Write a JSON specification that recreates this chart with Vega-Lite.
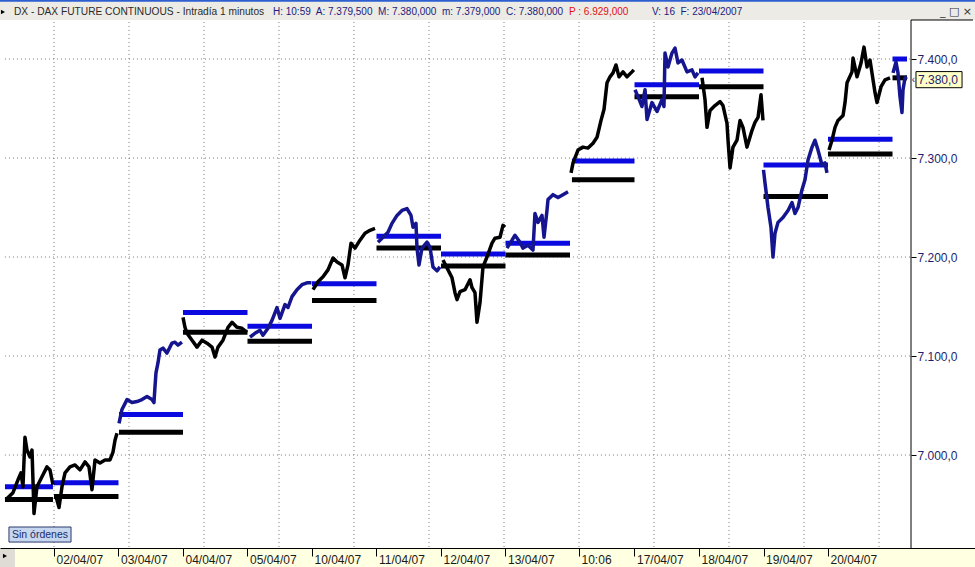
{
"$schema": "https://vega.github.io/schema/vega-lite/v6.json",
"width": 975, "height": 567, "autosize": "none", "padding": 0,
"background": "white",
"config": {"view": {"stroke": null}, "font": "Liberation Sans"},
"encoding": {
  "x": {"field": "t", "type": "quantitative", "title": null,
    "scale": {"domain": [0.163, 15.279], "nice": false, "zero": false},
    "axis": {"orient": "bottom", "offset": -19, "zindex": 2, "grid": false,
      "values": [1,2,3,4,5,6,7,8,9.14,10,11,12,13],
      "labelExpr": "['02/04/07','03/04/07','04/04/07','05/04/07','10/04/07','11/04/07','12/04/07','13/04/07','10:06','17/04/07','18/04/07','19/04/07','20/04/07'][round(datum.value)-1]",
      "domainColor": "#000000", "tickColor": "#000000", "tickSize": 8,
      "labelAlign": "left", "labelBaseline": "top", "labelPadding": -2, "labelOffset": 2,
      "labelFont": "Liberation Sans", "labelFontSize": 12, "labelColor": "#1a1a1a",
      "labelFlush": false, "labelOverlap": false, "labelBound": false}},
  "y": {"field": "p", "type": "quantitative", "title": null,
    "scale": {"domain": [6886.9, 7459.6], "nice": false, "zero": false},
    "axis": {"orient": "right", "offset": -64, "zindex": 2, "grid": false, "domain": false,
      "values": [7000,7100,7200,7300,7400],
      "labelExpr": "'7.' + format(datum.value - 7000, '03d') + ',0'",
      "tickColor": "#000000", "tickSize": 5, "labelPadding": 1,
      "labelFont": "Liberation Sans", "labelFontSize": 12, "labelColor": "#1e1e6e",
      "labelOverlap": false, "labelBound": false, "labelFlush": false}}
},
"resolve": {"scale": {"color": "independent"}},
"layer": [
  {"data": {"values": [{"t": 0.163, "t2": 15.279, "p": 7439.4, "p2": 7459.6}]},
   "mark": {"type": "rect", "color": "#ecebe6"},
   "encoding": {"x2": {"field": "t2"}, "y2": {"field": "p2"}}},
  {"data": {"values": [{"t": 0.163, "t2": 15.279, "p": 7457.8, "p2": 7459.6}]},
   "mark": {"type": "rect", "color": "#2d5fd0"},
   "encoding": {"x2": {"field": "t2"}, "y2": {"field": "p2"}}},
  {"data": {"values": [{"t": 0.163, "t2": 15.279, "p": 6886.9, "p2": 6905.9}]},
   "mark": {"type": "rect", "color": "#ffffe1"},
   "encoding": {"x2": {"field": "t2"}, "y2": {"field": "p2"}}},
  {"data": {"values": [{"t": 0.163, "t2": 0.395, "p": 6886.9, "p2": 6905.4}]},
   "mark": {"type": "rect", "color": "#dedcd4"},
   "encoding": {"x2": {"field": "t2"}, "y2": {"field": "p2"}}},
  {"data": {"values": [
     {"t": 0.24, "t2": 14.287, "p": 7000}, {"t": 0.24, "t2": 14.287, "p": 7100},
     {"t": 0.24, "t2": 14.287, "p": 7200}, {"t": 0.24, "t2": 14.287, "p": 7300},
     {"t": 0.24, "t2": 14.287, "p": 7400}]},
   "mark": {"type": "rule", "color": "#7a7a7a", "strokeDash": [1, 3], "strokeWidth": 1},
   "encoding": {"x2": {"field": "t2"}}},
  {"data": {"values": [
     {"t": 1.0, "p": 7437.4, "p2": 6905.9}, {"t": 2.163, "p": 7437.4, "p2": 6905.9},
     {"t": 3.326, "p": 7437.4, "p2": 6905.9}, {"t": 4.488, "p": 7437.4, "p2": 6905.9},
     {"t": 5.651, "p": 7437.4, "p2": 6905.9}, {"t": 6.814, "p": 7437.4, "p2": 6905.9},
     {"t": 7.977, "p": 7437.4, "p2": 6905.9}, {"t": 9.140, "p": 7437.4, "p2": 6905.9},
     {"t": 10.302, "p": 7437.4, "p2": 6905.9}, {"t": 11.465, "p": 7437.4, "p2": 6905.9},
     {"t": 12.628, "p": 7437.4, "p2": 6905.9}, {"t": 13.791, "p": 7437.4, "p2": 6905.9}]},
   "mark": {"type": "rule", "color": "#7a7a7a", "strokeDash": [1, 3], "strokeWidth": 1},
   "encoding": {"y2": {"field": "p2"}}},
  {"data": {"values": [
     {"s": 0, "t": 0.24, "t2": 0.984, "lvl": "sup", "p": 6968}, {"s": 0, "t": 0.24, "t2": 0.984, "lvl": "inf", "p": 6955},
     {"s": 1, "t": 1.0, "t2": 2.0, "lvl": "sup", "p": 6972}, {"s": 1, "t": 1.0, "t2": 2.0, "lvl": "inf", "p": 6958},
     {"s": 2, "t": 2.008, "t2": 3.0, "lvl": "sup", "p": 7041}, {"s": 2, "t": 2.008, "t2": 3.0, "lvl": "inf", "p": 7023},
     {"s": 3, "t": 3.0, "t2": 4.0, "lvl": "sup", "p": 7144}, {"s": 3, "t": 3.0, "t2": 4.0, "lvl": "inf", "p": 7124},
     {"s": 4, "t": 4.0, "t2": 5.0, "lvl": "sup", "p": 7130}, {"s": 4, "t": 4.0, "t2": 5.0, "lvl": "inf", "p": 7115},
     {"s": 5, "t": 5.0, "t2": 6.0, "lvl": "sup", "p": 7173}, {"s": 5, "t": 5.0, "t2": 6.0, "lvl": "inf", "p": 7156},
     {"s": 6, "t": 6.0, "t2": 7.0, "lvl": "sup", "p": 7221}, {"s": 6, "t": 6.0, "t2": 7.0, "lvl": "inf", "p": 7209},
     {"s": 7, "t": 7.0, "t2": 8.0, "lvl": "sup", "p": 7203}, {"s": 7, "t": 7.0, "t2": 8.0, "lvl": "inf", "p": 7191},
     {"s": 8, "t": 8.0, "t2": 9.0, "lvl": "sup", "p": 7214}, {"s": 8, "t": 8.0, "t2": 9.0, "lvl": "inf", "p": 7202},
     {"s": 9, "t": 9.03, "t2": 10.0, "lvl": "sup", "p": 7297}, {"s": 9, "t": 9.03, "t2": 10.0, "lvl": "inf", "p": 7278},
     {"s": 10, "t": 10.0, "t2": 11.0, "lvl": "sup", "p": 7374}, {"s": 10, "t": 10.0, "t2": 11.0, "lvl": "inf", "p": 7362},
     {"s": 11, "t": 11.0, "t2": 12.0, "lvl": "sup", "p": 7388}, {"s": 11, "t": 11.0, "t2": 12.0, "lvl": "inf", "p": 7372},
     {"s": 12, "t": 12.0, "t2": 13.0, "lvl": "sup", "p": 7293}, {"s": 12, "t": 12.0, "t2": 13.0, "lvl": "inf", "p": 7261},
     {"s": 13, "t": 13.0, "t2": 14.0, "lvl": "sup", "p": 7319}, {"s": 13, "t": 13.0, "t2": 14.0, "lvl": "inf", "p": 7304},
     {"s": 14, "t": 14.0, "t2": 14.225, "lvl": "sup", "p": 7400}, {"s": 14, "t": 14.0, "t2": 14.225, "lvl": "inf", "p": 7381}]},
   "mark": {"type": "rule", "strokeWidth": 5},
   "encoding": {"x2": {"field": "t2"},
     "color": {"field": "lvl", "type": "nominal", "legend": null,
       "scale": {"domain": ["sup", "inf"], "range": ["#0a0ae0", "#000000"]}}}},
  {"data": {"values": [
     {"s":0,"t":0.256,"p":6955},{"s":0,"t":0.364,"p":6962},{"s":0,"t":0.442,"p":6975},{"s":0,"t":0.488,"p":6982},{"s":0,"t":0.519,"p":6968},{"s":0,"t":0.550,"p":7018},{"s":0,"t":0.581,"p":7005},{"s":0,"t":0.628,"p":6998},{"s":0,"t":0.659,"p":7005},{"s":0,"t":0.674,"p":6975},{"s":0,"t":0.690,"p":6941},{"s":0,"t":0.736,"p":6968},{"s":0,"t":0.814,"p":6978},{"s":0,"t":0.891,"p":6988},{"s":0,"t":0.938,"p":6985},{"s":0,"t":0.984,"p":6970},
     {"s":1,"t":1.031,"p":6958},{"s":1,"t":1.078,"p":6947},{"s":1,"t":1.124,"p":6968},{"s":1,"t":1.171,"p":6982},{"s":1,"t":1.248,"p":6988},{"s":1,"t":1.326,"p":6990},{"s":1,"t":1.403,"p":6985},{"s":1,"t":1.481,"p":6993},{"s":1,"t":1.543,"p":6988},{"s":1,"t":1.589,"p":6965},{"s":1,"t":1.636,"p":6995},{"s":1,"t":1.713,"p":6992},{"s":1,"t":1.791,"p":6995},{"s":1,"t":1.868,"p":6995},{"s":1,"t":1.915,"p":7003},{"s":1,"t":1.946,"p":7015},{"s":1,"t":1.977,"p":7022},
     {"s":2,"t":2.008,"p":7032},{"s":2,"t":2.054,"p":7046},{"s":2,"t":2.132,"p":7056},{"s":2,"t":2.209,"p":7053},{"s":2,"t":2.287,"p":7054},{"s":2,"t":2.364,"p":7056},{"s":2,"t":2.442,"p":7059},{"s":2,"t":2.519,"p":7056},{"s":2,"t":2.550,"p":7053},{"s":2,"t":2.566,"p":7069},{"s":2,"t":2.581,"p":7083},{"s":2,"t":2.612,"p":7093},{"s":2,"t":2.643,"p":7106},{"s":2,"t":2.690,"p":7108},{"s":2,"t":2.752,"p":7103},{"s":2,"t":2.829,"p":7113},{"s":2,"t":2.876,"p":7114},{"s":2,"t":2.922,"p":7111},{"s":2,"t":2.984,"p":7114},
     {"s":3,"t":3.000,"p":7139},{"s":3,"t":3.031,"p":7129},{"s":3,"t":3.062,"p":7123},{"s":3,"t":3.140,"p":7116},{"s":3,"t":3.217,"p":7109},{"s":3,"t":3.295,"p":7116},{"s":3,"t":3.372,"p":7113},{"s":3,"t":3.450,"p":7109},{"s":3,"t":3.496,"p":7099},{"s":3,"t":3.543,"p":7109},{"s":3,"t":3.620,"p":7116},{"s":3,"t":3.698,"p":7129},{"s":3,"t":3.760,"p":7134},{"s":3,"t":3.837,"p":7129},{"s":3,"t":3.915,"p":7128},{"s":3,"t":3.992,"p":7124},
     {"s":4,"t":4.039,"p":7119},{"s":4,"t":4.116,"p":7123},{"s":4,"t":4.194,"p":7126},{"s":4,"t":4.240,"p":7121},{"s":4,"t":4.318,"p":7128},{"s":4,"t":4.380,"p":7136},{"s":4,"t":4.457,"p":7149},{"s":4,"t":4.504,"p":7138},{"s":4,"t":4.581,"p":7152},{"s":4,"t":4.628,"p":7149},{"s":4,"t":4.690,"p":7160},{"s":4,"t":4.767,"p":7167},{"s":4,"t":4.845,"p":7172},{"s":4,"t":4.922,"p":7174},{"s":4,"t":4.992,"p":7174},
     {"s":5,"t":5.016,"p":7167},{"s":5,"t":5.093,"p":7175},{"s":5,"t":5.171,"p":7180},{"s":5,"t":5.248,"p":7187},{"s":5,"t":5.326,"p":7199},{"s":5,"t":5.388,"p":7195},{"s":5,"t":5.465,"p":7192},{"s":5,"t":5.512,"p":7179},{"s":5,"t":5.558,"p":7192},{"s":5,"t":5.605,"p":7214},{"s":5,"t":5.667,"p":7209},{"s":5,"t":5.744,"p":7217},{"s":5,"t":5.822,"p":7224},{"s":5,"t":5.899,"p":7227},{"s":5,"t":5.977,"p":7229},
     {"s":6,"t":6.023,"p":7215},{"s":6,"t":6.101,"p":7220},{"s":6,"t":6.178,"p":7225},{"s":6,"t":6.240,"p":7234},{"s":6,"t":6.318,"p":7242},{"s":6,"t":6.395,"p":7247},{"s":6,"t":6.473,"p":7249},{"s":6,"t":6.535,"p":7242},{"s":6,"t":6.566,"p":7230},{"s":6,"t":6.612,"p":7234},{"s":6,"t":6.628,"p":7209},{"s":6,"t":6.659,"p":7192},{"s":6,"t":6.705,"p":7209},{"s":6,"t":6.783,"p":7215},{"s":6,"t":6.829,"p":7210},{"s":6,"t":6.876,"p":7190},{"s":6,"t":6.938,"p":7186},{"s":6,"t":6.984,"p":7190},
     {"s":7,"t":7.031,"p":7197},{"s":7,"t":7.109,"p":7187},{"s":7,"t":7.171,"p":7179},{"s":7,"t":7.217,"p":7164},{"s":7,"t":7.248,"p":7157},{"s":7,"t":7.295,"p":7165},{"s":7,"t":7.372,"p":7167},{"s":7,"t":7.450,"p":7177},{"s":7,"t":7.481,"p":7169},{"s":7,"t":7.527,"p":7164},{"s":7,"t":7.558,"p":7134},{"s":7,"t":7.605,"p":7154},{"s":7,"t":7.651,"p":7190},{"s":7,"t":7.713,"p":7200},{"s":7,"t":7.791,"p":7214},{"s":7,"t":7.837,"p":7219},{"s":7,"t":7.915,"p":7220},{"s":7,"t":7.961,"p":7232},{"s":7,"t":7.992,"p":7230},
     {"s":8,"t":8.023,"p":7209},{"s":8,"t":8.101,"p":7217},{"s":8,"t":8.147,"p":7222},{"s":8,"t":8.225,"p":7215},{"s":8,"t":8.271,"p":7209},{"s":8,"t":8.349,"p":7212},{"s":8,"t":8.426,"p":7207},{"s":8,"t":8.457,"p":7244},{"s":8,"t":8.504,"p":7235},{"s":8,"t":8.566,"p":7242},{"s":8,"t":8.597,"p":7220},{"s":8,"t":8.643,"p":7247},{"s":8,"t":8.659,"p":7258},{"s":8,"t":8.736,"p":7263},{"s":8,"t":8.814,"p":7260},{"s":8,"t":8.891,"p":7263},{"s":8,"t":8.969,"p":7266},
     {"s":9,"t":9.016,"p":7285},{"s":9,"t":9.047,"p":7295},{"s":9,"t":9.124,"p":7308},{"s":9,"t":9.202,"p":7311},{"s":9,"t":9.279,"p":7310},{"s":9,"t":9.357,"p":7315},{"s":9,"t":9.419,"p":7321},{"s":9,"t":9.481,"p":7338},{"s":9,"t":9.527,"p":7349},{"s":9,"t":9.574,"p":7376},{"s":9,"t":9.620,"p":7382},{"s":9,"t":9.667,"p":7386},{"s":9,"t":9.713,"p":7394},{"s":9,"t":9.760,"p":7382},{"s":9,"t":9.822,"p":7387},{"s":9,"t":9.884,"p":7382},{"s":9,"t":9.961,"p":7387},{"s":9,"t":9.990,"p":7389},
     {"s":10,"t":10.008,"p":7369},{"s":10,"t":10.054,"p":7362},{"s":10,"t":10.116,"p":7352},{"s":10,"t":10.163,"p":7369},{"s":10,"t":10.194,"p":7339},{"s":10,"t":10.271,"p":7356},{"s":10,"t":10.349,"p":7347},{"s":10,"t":10.426,"p":7359},{"s":10,"t":10.457,"p":7352},{"s":10,"t":10.473,"p":7406},{"s":10,"t":10.519,"p":7392},{"s":10,"t":10.581,"p":7406},{"s":10,"t":10.628,"p":7411},{"s":10,"t":10.674,"p":7396},{"s":10,"t":10.736,"p":7399},{"s":10,"t":10.814,"p":7387},{"s":10,"t":10.891,"p":7389},{"s":10,"t":10.938,"p":7382},{"s":10,"t":10.984,"p":7386},
     {"s":11,"t":11.047,"p":7381},{"s":11,"t":11.093,"p":7359},{"s":11,"t":11.124,"p":7331},{"s":11,"t":11.171,"p":7348},{"s":11,"t":11.248,"p":7353},{"s":11,"t":11.326,"p":7357},{"s":11,"t":11.372,"p":7353},{"s":11,"t":11.434,"p":7335},{"s":11,"t":11.450,"p":7318},{"s":11,"t":11.481,"p":7290},{"s":11,"t":11.527,"p":7311},{"s":11,"t":11.589,"p":7318},{"s":11,"t":11.636,"p":7338},{"s":11,"t":11.682,"p":7331},{"s":11,"t":11.744,"p":7311},{"s":11,"t":11.822,"p":7328},{"s":11,"t":11.868,"p":7336},{"s":11,"t":11.915,"p":7341},{"s":11,"t":11.961,"p":7364},{"s":11,"t":11.992,"p":7338},
     {"s":12,"t":12.000,"p":7288},{"s":12,"t":12.023,"p":7275},{"s":12,"t":12.070,"p":7250},{"s":12,"t":12.116,"p":7230},{"s":12,"t":12.147,"p":7200},{"s":12,"t":12.178,"p":7224},{"s":12,"t":12.225,"p":7235},{"s":12,"t":12.302,"p":7240},{"s":12,"t":12.380,"p":7247},{"s":12,"t":12.442,"p":7255},{"s":12,"t":12.488,"p":7244},{"s":12,"t":12.535,"p":7250},{"s":12,"t":12.597,"p":7268},{"s":12,"t":12.643,"p":7278},{"s":12,"t":12.690,"p":7298},{"s":12,"t":12.752,"p":7311},{"s":12,"t":12.798,"p":7318},{"s":12,"t":12.845,"p":7308},{"s":12,"t":12.907,"p":7293},{"s":12,"t":12.953,"p":7295},{"s":12,"t":12.984,"p":7285},
     {"s":13,"t":13.016,"p":7308},{"s":13,"t":13.062,"p":7318},{"s":13,"t":13.109,"p":7331},{"s":13,"t":13.155,"p":7338},{"s":13,"t":13.233,"p":7343},{"s":13,"t":13.264,"p":7356},{"s":13,"t":13.295,"p":7376},{"s":13,"t":13.372,"p":7387},{"s":13,"t":13.388,"p":7401},{"s":13,"t":13.450,"p":7382},{"s":13,"t":13.512,"p":7396},{"s":13,"t":13.558,"p":7412},{"s":13,"t":13.605,"p":7392},{"s":13,"t":13.651,"p":7399},{"s":13,"t":13.698,"p":7379},{"s":13,"t":13.729,"p":7366},{"s":13,"t":13.760,"p":7356},{"s":13,"t":13.822,"p":7372},{"s":13,"t":13.884,"p":7379},{"s":13,"t":13.961,"p":7381},
     {"s":14,"t":14.008,"p":7386},{"s":14,"t":14.054,"p":7397},{"s":14,"t":14.085,"p":7386},{"s":14,"t":14.116,"p":7362},{"s":14,"t":14.147,"p":7346},{"s":14,"t":14.163,"p":7369},{"s":14,"t":14.194,"p":7381},{"s":14,"t":14.225,"p":7382}]},
   "mark": {"type": "line", "strokeWidth": 3.5, "strokeJoin": "round"},
   "encoding": {"detail": {"field": "s", "type": "nominal"},
     "color": {"field": "s", "type": "nominal", "legend": null,
       "scale": {"domain": [0,1,2,3,4,5,6,7,8,9,10,11,12,13,14],
         "range": ["#000000","#000000","#15158f","#000000","#15158f","#000000","#15158f","#000000","#15158f","#000000","#15158f","#000000","#15158f","#000000","#15158f"]}}}},
  {"data": {"values": [{"t": 14.287, "p": 7439.4, "p2": 6905.9}]},
   "mark": {"type": "rule", "color": "#000000", "strokeWidth": 1},
   "encoding": {"y2": {"field": "p2"}}},
  {"data": {"values": [{"t": 14.287, "t2": 15.248, "p": 7439.4}]},
   "mark": {"type": "rule", "color": "#000000", "strokeWidth": 1},
   "encoding": {"x2": {"field": "t2"}}},
  {"data": {"values": [{"t": 0.302, "t2": 1.264, "p": 6927.3, "p2": 6912.1}]},
   "mark": {"type": "rect", "fill": "#c6d6ee", "stroke": "#2a3a6a", "strokeWidth": 1},
   "encoding": {"x2": {"field": "t2"}, "y2": {"field": "p2"}}},
  {"data": {"values": [{"t": 14.364, "t2": 15.078, "p": 7387.3, "p2": 7371.0}]},
   "mark": {"type": "rect", "fill": "#ffffc8", "stroke": "#000000", "strokeWidth": 1},
   "encoding": {"x2": {"field": "t2"}, "y2": {"field": "p2"}}},
  {"data": {"values": [{"t": 0.349, "p": 6919.7, "txt": "Sin órdenes"}]},
   "mark": {"type": "text", "align": "left", "baseline": "middle", "fontSize": 10.5, "color": "#1a2a6a", "font": "Liberation Sans"},
   "encoding": {"text": {"field": "txt"}}},
  {"data": {"values": [{"t": 14.395, "p": 7379.2, "txt": "7.380,0"}]},
   "mark": {"type": "text", "align": "left", "baseline": "middle", "fontSize": 12, "color": "#1e1e6e", "font": "Liberation Sans"},
   "encoding": {"text": {"field": "txt"}}},
  {"data": {"values": [{"t": 14.300, "p": 7379.2, "txt": "‹"}]},
   "mark": {"type": "text", "align": "left", "baseline": "middle", "fontSize": 10, "color": "#1e1e6e", "font": "Liberation Sans"},
   "encoding": {"text": {"field": "txt"}}},
  {"data": {"values": [{"t": 0.380, "p": 7447.5, "txt": "DX - DAX FUTURE CONTINUOUS - Intradía 1 minutos"}]},
   "mark": {"type": "text", "align": "left", "baseline": "middle", "fontSize": 10.2, "color": "#2b2b2b", "font": "Liberation Sans"},
   "encoding": {"text": {"field": "txt"}}},
  {"data": {"values": [
     {"t": 4.395, "p": 7447.5, "txt": "H: 10:59\u00a0 A: 7.379,500\u00a0 M: 7.380,000\u00a0 m: 7.379,000\u00a0 C: 7.380,000"},
     {"t": 10.271, "p": 7447.5, "txt": "V: 16\u00a0 F: 23/04/2007"}]},
   "mark": {"type": "text", "align": "left", "baseline": "middle", "fontSize": 10, "color": "#1c1c7c", "font": "Liberation Sans"},
   "encoding": {"text": {"field": "txt"}}},
  {"data": {"values": [{"t": 8.985, "p": 7447.5, "txt": "P : 6.929,000"}]},
   "mark": {"type": "text", "align": "left", "baseline": "middle", "fontSize": 10, "color": "#e01010", "font": "Liberation Sans"},
   "encoding": {"text": {"field": "txt"}}},
  {"data": {"values": [{"t": 14.736, "p": 7447.5, "txt": "_ □ ×"}]},
   "mark": {"type": "text", "align": "left", "baseline": "middle", "fontSize": 11, "color": "#333333", "font": "DejaVu Sans"},
   "encoding": {"text": {"field": "txt"}}},
  {"data": {"values": [{"t": 0.209, "p": 7447.5}, {"t": 0.240, "p": 6898}]},
   "mark": {"type": "point", "shape": "triangle-right", "filled": true, "size": 22, "color": "#000000", "opacity": 1},
   "encoding": {}}
]
}
